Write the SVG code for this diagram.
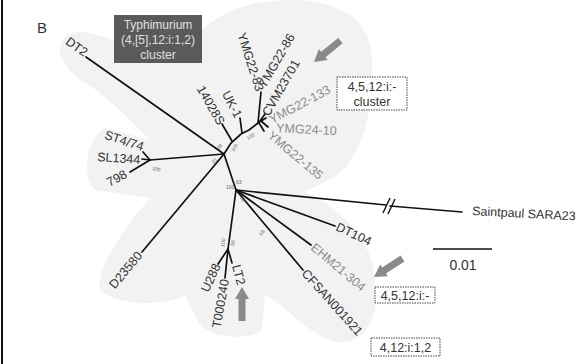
<svg xmlns="http://www.w3.org/2000/svg" width="580" height="364" viewBox="0 0 580 364">
<style>
.lbl{font-family:"Liberation Sans",Arial,sans-serif;font-size:12.5px;fill:#333}
.lt{fill:#8a8a8a}
.bs{font-family:"Liberation Sans",Arial,sans-serif;font-size:5px;fill:#666}
.br{stroke:#111;stroke-width:1.7;fill:none;stroke-linecap:round}
.box{fill:#fff;stroke:#444;stroke-width:1;stroke-dasharray:1.5,1}
.arr{fill:#8a8a8a}
</style>
<defs>
<path id="ar" d="M-34,-3.5 L-12,-3.5 L-12,-7 L0,0 L-12,7 L-12,3.5 L-34,3.5 Z"/>
</defs>
<rect width="580" height="364" fill="#fff"/>
<line x1="2" y1="0" x2="2" y2="364" stroke="#111" stroke-width="2"/>
<g id="halo" fill="#f2f2f2">
<path d="M175,60 C200,20 240,0 290,0 C340,0 372,20 372,60 C375,110 360,170 325,182 L305,192 C335,205 372,235 375,280 C380,320 365,345 335,342 C305,332 285,305 265,295 L262,330 C250,340 210,340 198,322 L185,295 C170,305 120,308 100,290 C95,268 125,228 150,198 L95,190 C80,175 88,135 105,128 L150,140 C120,110 100,90 80,80 C50,55 55,30 85,32 C120,38 150,60 175,60 Z"/>
</g>
<text class="lbl" x="37" y="33" style="font-size:15px">B</text>
<g id="typh-box">
<rect x="114" y="15" width="88" height="48" fill="#5a5a5a"/>
<text class="lbl" x="158" y="29" text-anchor="middle" style="fill:#e0e0e0;font-size:12px">Typhimurium</text>
<text class="lbl" x="158" y="44" text-anchor="middle" style="fill:#e0e0e0;font-size:12px">(4,[5],12:i:1,2)</text>
<text class="lbl" x="158" y="59" text-anchor="middle" style="fill:#e0e0e0;font-size:12px">cluster</text>
</g>
<g id="connectors">
<polyline class="br" points="86,57 224,154"/>
<polyline class="br" points="224,154 150,160"/>
<polyline class="br" points="150,160 142,159"/>
<polyline class="br" points="150,160 143,152"/>
<polyline class="br" points="150,160 130,172"/>
<polyline class="br" points="224,154 142,252"/>
<polyline class="br" points="224,154 231,143 241,134 249,130 258,123 262,120"/>
<polyline class="br" points="232,141 222,124"/>
<polyline class="br" points="242,133 240,118"/>
<polyline class="br" points="258,123 261,92"/>
<polyline class="br" points="260,121 265,114"/>
<polyline class="br" points="261,121 266,118"/>
<polyline class="br" points="261,121 268,127"/>
<polyline class="br" points="259,123 264,131"/>
<polyline class="br" points="224,154 236,190"/>
<polyline class="br" points="236,190 386,205"/>
<polyline class="br" points="390,206 462,212"/>
<line x1="383" y1="213" x2="390" y2="198" stroke="#111" stroke-width="1.4"/>
<line x1="388" y1="214" x2="395" y2="199" stroke="#111" stroke-width="1.4"/>
<polyline class="br" points="236,190 335,226"/>
<polyline class="br" points="236,190 311,245"/>
<polyline class="br" points="236,190 303,270"/>
<polyline class="br" points="236,190 228,249"/>
<polyline class="br" points="228,249 218,264"/>
<polyline class="br" points="228,249 225,278"/>
<polyline class="br" points="228,249 232,263"/>
</g>
<g id="bootstrap">
<text class="bs" transform="translate(152,170) rotate(10)">100</text>
<text class="bs" transform="translate(214,164) rotate(-50)">91</text>
<text class="bs" transform="translate(219,150) rotate(-50)">98</text>
<text class="bs" transform="translate(234,152) rotate(-60)">100</text>
<text class="bs" transform="translate(248,140) rotate(-30)">100</text>
<text class="bs" transform="translate(226,189)">100</text>
<text class="bs" transform="translate(236,184)">63</text>
<text class="bs" transform="translate(240,197) rotate(70)">84</text>
<text class="bs" transform="translate(262,236) rotate(-60)">58</text>
<text class="bs" transform="translate(224,247) rotate(-80)">100</text>
<text class="bs" transform="translate(234,246) rotate(-80)">89</text>
</g>
<g id="n-DT2"><text class="lbl" text-anchor="end" transform="translate(84,57) rotate(35)">DT2</text></g>
<g id="n-ST474"><text class="lbl" text-anchor="end" transform="translate(142,151) rotate(18)">ST4/74</text></g>
<g id="n-SL1344"><text class="lbl" text-anchor="end" transform="translate(140,164) rotate(4)">SL1344</text></g>
<g id="n-798"><text class="lbl" text-anchor="end" transform="translate(128,177) rotate(-28)">798</text></g>
<g id="n-D23580"><text class="lbl" text-anchor="end" transform="translate(143,256) rotate(-50)">D23580</text></g>
<g id="n-14028S"><text class="lbl" text-anchor="end" transform="translate(218,126) rotate(60)">14028S</text></g>
<g id="n-UK1"><text class="lbl" text-anchor="end" transform="translate(235,119) rotate(62)">UK-1</text></g>
<g id="n-YMG2283"><text class="lbl" text-anchor="end" transform="translate(256,92) rotate(72)">YMG22-83</text></g>
<g id="n-YMG2286"><text class="lbl" transform="translate(265,89) rotate(-60)">YMG22-86</text></g>
<g id="n-CVM23701"><text class="lbl" transform="translate(269,117) rotate(-60)">CVM23701</text></g>
<g id="n-YMG22133"><text class="lbl lt" transform="translate(272,124) rotate(-28)">YMG22-133</text></g>
<g id="n-YMG2410"><text class="lbl lt" transform="translate(276,132) rotate(3)">YMG24-10</text></g>
<g id="n-YMG22135"><text class="lbl lt" transform="translate(267,137) rotate(40)">YMG22-135</text></g>
<g id="n-Saintpaul"><text class="lbl" transform="translate(472,215) rotate(3)">Saintpaul SARA23</text></g>
<g id="n-DT104"><text class="lbl" transform="translate(335,230) rotate(25)">DT104</text></g>
<g id="n-EHM21304"><text class="lbl lt" transform="translate(310,249) rotate(40)">EHM21-304</text></g>
<g id="n-CFSAN"><text class="lbl" transform="translate(301,274) rotate(48)">CFSAN001921</text></g>
<g id="n-U288"><text class="lbl" text-anchor="end" transform="translate(221,266) rotate(-65)">U288</text></g>
<g id="n-T000240"><text class="lbl" text-anchor="end" transform="translate(229,280) rotate(-80)">T000240</text></g>
<g id="n-LT2"><text class="lbl" transform="translate(232,266) rotate(75)">LT2</text></g>
<g id="box-cluster">
<rect class="box" x="337" y="77" width="70" height="33"/>
<text class="lbl" x="372" y="91" text-anchor="middle">4,5,12:i:-</text>
<text class="lbl" x="372" y="106" text-anchor="middle">cluster</text>
</g>
<g id="box-45">
<rect class="box" x="375" y="287" width="60" height="16"/>
<text class="lbl" x="405" y="300" text-anchor="middle">4,5,12:i:-</text>
</g>
<g id="box-412">
<rect class="box" x="371" y="338" width="69" height="18"/>
<text class="lbl" x="405.5" y="352" text-anchor="middle">4,12:i:1,2</text>
</g>
<g id="arrows">
<use href="#ar" class="arr" transform="translate(314,62) rotate(141)"/>
<use href="#ar" class="arr" transform="translate(374,277) rotate(147)"/>
<use href="#ar" class="arr" transform="translate(242,287) rotate(-90)"/>
</g>
<g id="scale">
<line x1="433" y1="249" x2="492" y2="249" stroke="#111" stroke-width="1.5"/>
<text class="lbl" x="463" y="270" text-anchor="middle" style="font-size:14px">0.01</text>
</g>
</svg>
